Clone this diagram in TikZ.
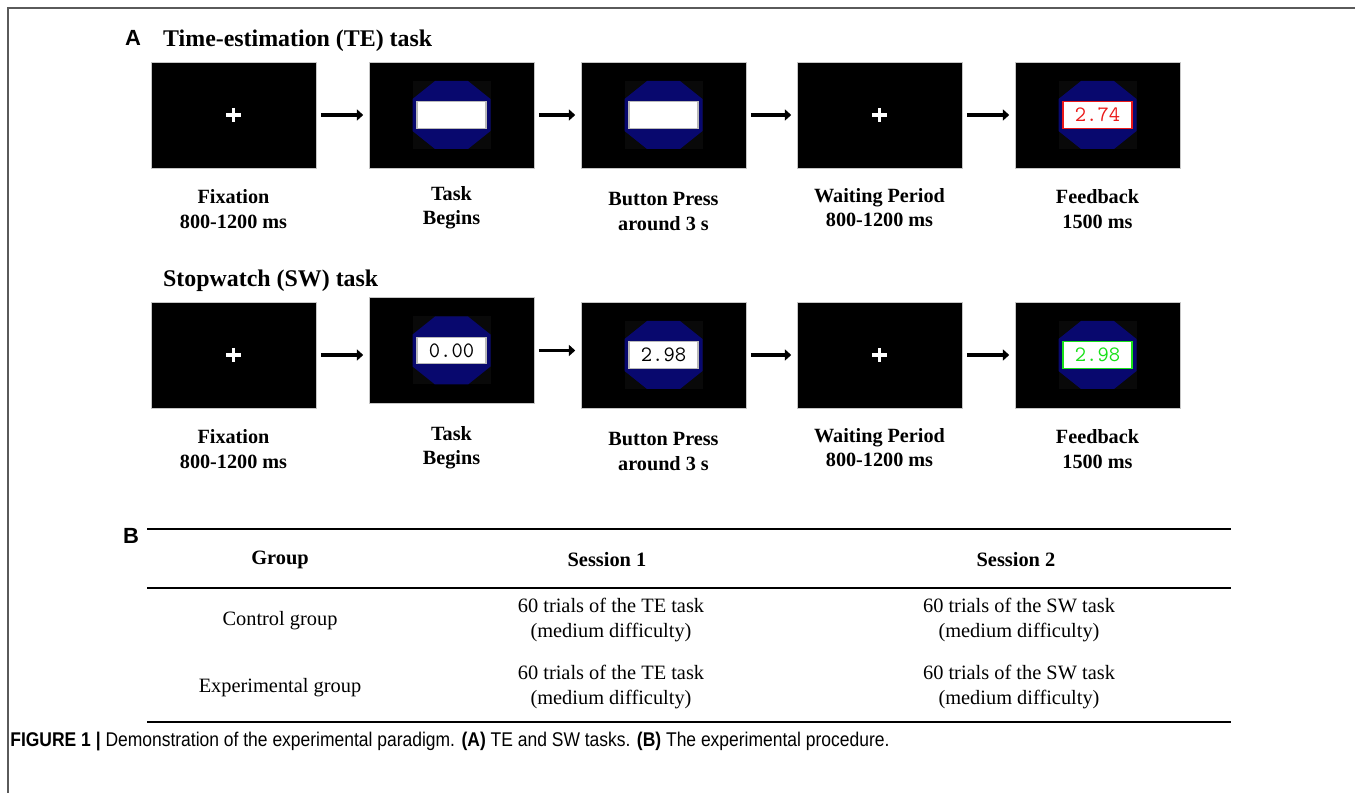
\documentclass[tikz,border=0pt]{standalone}
\usepackage{fontspec}
\setmainfont{Liberation Serif}
\setsansfont{Liberation Sans}
\newfontfamily\capfont[FakeStretch=0.88]{Liberation Sans}
\usetikzlibrary{positioning,arrows.meta}

\definecolor{navy}{RGB}{8,8,110}
\definecolor{fbred}{RGB}{235,25,25}
\definecolor{fbgreen}{RGB}{25,225,25}
\definecolor{backsq}{RGB}{9,9,9}
\definecolor{framegray}{RGB}{90,90,90}

\tikzset{
    screen/.style={rectangle, fill=black, draw=gray!45, line width=0.3pt,
        minimum width=3.3cm, minimum height=2.12cm, inner sep=0pt},
    numbox/.style={rectangle, fill=white, draw=#1, line width=0.8pt,
        minimum width=1.38cm, minimum height=0.53cm, inner sep=0pt,
        font=\ttfamily\fontsize{12.5}{13}\selectfont},
    numbox/.default=gray!55,
    fbbox/.style={numbox=#1, text=#1},
    lbl/.style={align=center, font=\bfseries\fontsize{11.5}{13.8}\selectfont},
    title/.style={anchor=west, font=\bfseries\fontsize{13.6}{16}\selectfont},
    panel/.style={font=\sffamily\bfseries\fontsize{12.5}{14}\selectfont},
    cell/.style={align=center, font=\fontsize{11.6}{14}\selectfont},
    head/.style={font=\bfseries\fontsize{11.6}{14}\selectfont},
    flow/.style={-{Triangle[length=3.6pt,width=6.2pt]}, line width=2.2pt,
        shorten <=0.09cm, shorten >=0.11cm},
    rule/.style={line width=1pt},
    cross/.pic={\draw[white, line width=2.2pt] (-7.5,0) -- (7.5,0) (0,-7) -- (0,7);},
    octa/.pic={
        \fill[backsq] (-39,-34) rectangle (39,34);
        \fill[navy] (-16.5,-34) -- (16.5,-34) -- (39,-16) -- (39,16)
            -- (16.5,34) -- (-16.5,34) -- (-39,16) -- (-39,-16) -- cycle;
    }
}

\begin{document}
\begin{tikzpicture}[x=0.02cm, y=-0.02cm]
    \useasboundingbox (0,0) rectangle (1355,793);

    % Frame
    \draw[framegray, line width=1.1pt] (8,793) -- (8,8) -- (1355,8);

    % Panel A
    \node[panel] (pa) at (133,38) {A};
    \node[title] (tetitle) at (157,41) {Time-estimation (TE) task};
    \node[title] (swtitle) at (157,281) {Stopwatch (SW) task};

    % Screens
    \foreach \i/\x in {1/233.5,2/451.5,3/663.5,4/879.5,5/1097.5} {
        \node[screen] (te\i) at (\x,115) {};
    }
    \foreach \i/\x/\y in {1/233.5/355,2/451.5/350.5,3/663.5/355,4/879.5/355,5/1097.5/355} {
        \node[screen] (sw\i) at (\x,\y) {};
    }

    % Screen contents
    \pic at (te1) {cross};
    \pic at (te4) {cross};
    \pic at (sw1) {cross};
    \pic at (sw4) {cross};
    \foreach \s in {te2,te3,te5,sw2,sw3,sw5} {
        \pic at (\s) {octa};
    }
    \node[numbox] (tebox2) at (te2) {};
    \node[numbox] (tebox3) at (te3) {};
    \node[fbbox=fbred] (tebox5) at (te5) {2.74};
    \node[numbox] (swbox2) at (sw2) {0.00};
    \node[numbox] (swbox3) at (sw3) {2.98};
    \node[fbbox=fbgreen] (swbox5) at (sw5) {2.98};

    % Arrows
    \foreach \a/\b in {1/2,2/3,3/4,4/5} {
        \draw[flow] (te\a.east) -- (te\a.east -| te\b.west);
        \draw[flow] (sw\a.east) -- (sw\a.east -| sw\b.west);
    }

    % Labels
    \foreach \i/\x/\y/\txt in {1/233.5/209/{Fixation\\800-1200 ms},
                               2/451.5/207.5/{Task\\Begins},
                               3/663.5/211.5/{Button Press\\around 3 s},
                               4/879.5/207.5/{Waiting Period\\800-1200 ms},
                               5/1097.5/209/{Feedback\\1500 ms}} {
        \node[lbl] (tel\i) at (\x,\y) {\txt};
        \node[lbl] (swl\i) at (\x,\y+240) {\txt};
    }

    % Panel B
    \node[panel] (pb) at (131,536) {B};
    \draw[rule] (147,529) -- (1231,529);
    \draw[rule] (147,588) -- (1231,588);
    \draw[rule] (147,722) -- (1231,722);

    \node[head] (hgroup) at (280,560) {Group};
    \node[head] (hs1) at (607,560) {Session 1};
    \node[head] (hs2) at (1016,560) {Session 2};

    \node[cell] (c11) at (280,621) {Control group};
    \node[cell] (c12) at (611,620) {60 trials of the TE task\\(medium difficulty)};
    \node[cell] (c13) at (1019,620) {60 trials of the SW task\\(medium difficulty)};
    \node[cell] (c21) at (280,688) {Experimental group};
    \node[cell] (c22) at (611,687) {60 trials of the TE task\\(medium difficulty)};
    \node[cell] (c23) at (1019,687) {60 trials of the SW task\\(medium difficulty)};

    % Caption
    \node[anchor=west, inner sep=0pt, font=\capfont\fontsize{11.3}{13}\selectfont] (cap) at (10,742)
        {\textbf{FIGURE 1 |} Demonstration of the experimental paradigm. \textbf{(A)} TE and SW tasks. \textbf{(B)} The experimental procedure.};
\end{tikzpicture}
\end{document}
